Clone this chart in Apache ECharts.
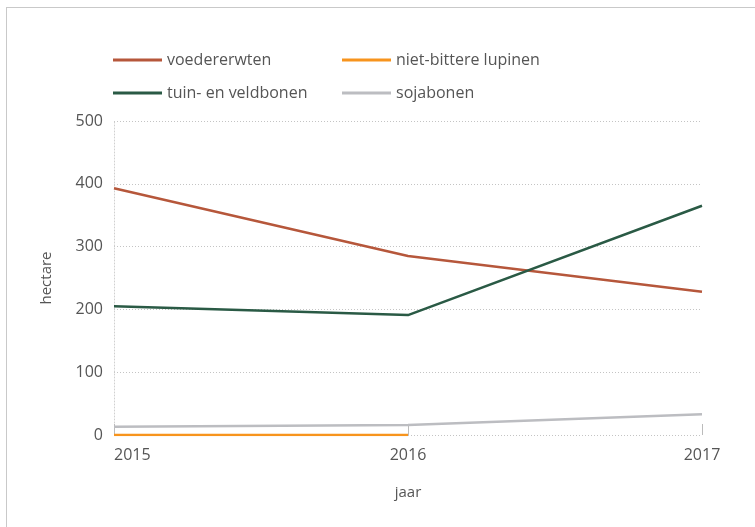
<!DOCTYPE html>
<html><head><meta charset="utf-8">
<script src="https://cdn.jsdelivr.net/npm/echarts@6/dist/echarts.min.js"></script>
<style>
html,body{margin:0;padding:0;background:#fff;overflow:hidden;}
#frame{position:absolute;left:6px;top:7px;width:900px;height:700px;border:1px solid #c9c9c9;}
#chart{position:absolute;left:0;top:0;width:755px;height:527px;}
</style></head>
<body><div id="frame"></div><div id="chart"></div>
<script>
var years = ['2015', '2016', '2017'];
var voedererwten = [393, 285, 228];
var lupinen = [0, 0, null];
var tuinVeldbonen = [205, 191, 365];
var sojabonen = [13, 16, 33];
var yTicks = [0, 100, 200, 300, 400, 500];

var font = '"Open Sans", Lato, sans-serif';
var chart = echarts.init(document.getElementById('chart'));
var legendText = {color: '#555', fontSize: 16, fontFamily: font};
chart.setOption({
  animation: false,
  legend: [
    {orient: 'vertical', left: 113, top: 52, padding: 0, itemWidth: 49, itemHeight: 3, itemGap: 17,
     icon: 'rect', textStyle: legendText, data: ['voedererwten', 'tuin- en veldbonen']},
    {orient: 'vertical', left: 342, top: 52, padding: 0, itemWidth: 49, itemHeight: 3, itemGap: 17,
     icon: 'rect', textStyle: legendText, data: ['niet-bittere lupinen', 'sojabonen']}
  ],
  grid: {left: 114, right: 53, top: 121, bottom: 92},
  xAxis: {
    type: 'category', boundaryGap: false,
    data: years.map(function (y, i) { return i === 0 ? {value: y, textStyle: {align: 'left'}} : y; }),
    name: 'jaar', nameLocation: 'middle', nameGap: 50,
    nameTextStyle: {color: '#555', fontSize: 15, fontFamily: font},
    axisLine: {show: false},
    axisTick: {show: true, inside: true, length: 11, alignWithLabel: true, lineStyle: {color: '#bbb', width: 1}},
    axisLabel: {color: '#555', fontSize: 16, fontFamily: font, margin: 12},
    splitLine: {show: false}
  },
  yAxis: {
    type: 'value', min: yTicks[0], max: yTicks[yTicks.length - 1], interval: 100,
    name: 'hectare', nameLocation: 'middle', nameGap: 60, nameRotate: 90,
    nameTextStyle: {color: '#555', fontSize: 15, fontFamily: font},
    axisLine: {show: true, lineStyle: {color: '#d0d0d0', type: [1, 2], width: 1}},
    axisTick: {show: false},
    axisLabel: {color: '#555', fontSize: 16, fontFamily: font, margin: 11, padding: [0, 0, 6, 0]},
    splitLine: {show: true, lineStyle: {color: '#c4c4c4', type: [1, 2], width: 1}}
  },
  series: [
    {name: 'voedererwten', type: 'line', data: voedererwten, symbol: 'none', lineStyle: {width: 2.5, color: '#b6573b'}, itemStyle: {color: '#b6573b'}},
    {name: 'niet-bittere lupinen', type: 'line', data: lupinen, symbol: 'none', lineStyle: {width: 2.5, color: '#f7941d'}, itemStyle: {color: '#f7941d'}},
    {name: 'tuin- en veldbonen', type: 'line', data: tuinVeldbonen, symbol: 'none', lineStyle: {width: 2.5, color: '#2a5a45'}, itemStyle: {color: '#2a5a45'}},
    {name: 'sojabonen', type: 'line', data: sojabonen, symbol: 'none', lineStyle: {width: 2.5, color: '#bcbdc1'}, itemStyle: {color: '#bcbdc1'}}
  ]
});
</script></body></html>
